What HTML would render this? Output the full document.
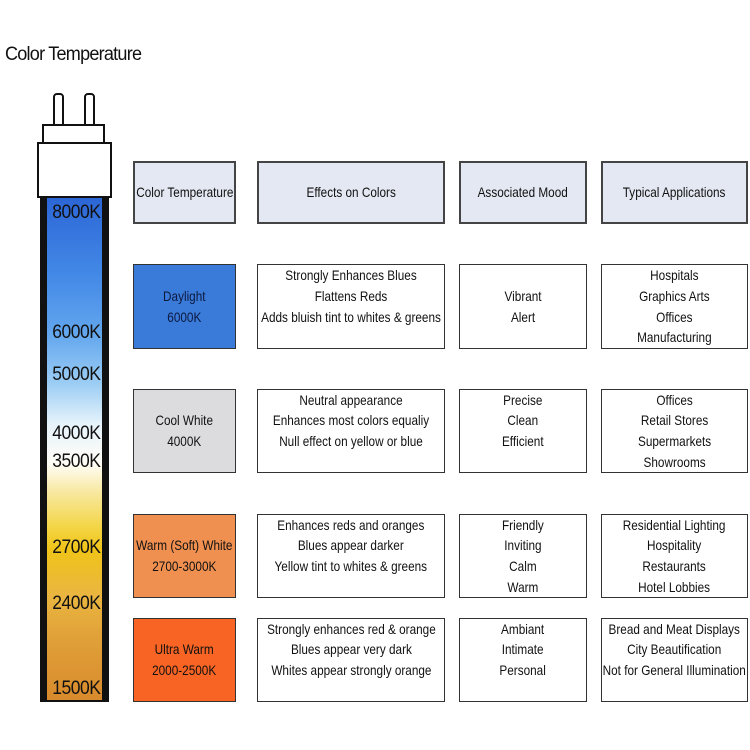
<!DOCTYPE html>
<html><head><meta charset="utf-8"><style>
body{margin:0;width:750px;height:750px;background:#fff;position:relative;overflow:hidden;font-family:"Liberation Sans",sans-serif;color:#111}
.a{position:absolute}
.box{position:absolute;border:1px solid #333;box-sizing:border-box;display:flex;flex-direction:column;justify-content:center;align-items:center;text-align:center;font-size:14px;line-height:20.7px;background:#fff}
.box>div{white-space:nowrap;transform:scaleX(.84)}
.hdr{background:#e4e8f2;border:2px solid #444}
.k{position:absolute;right:650px;font-size:19px;line-height:20px;color:#111;transform:translateY(-50%) scaleX(.92);transform-origin:right center;letter-spacing:-0.5px}
</style></head><body>
<div class="a" style="left:5px;top:44px;font-size:19px;letter-spacing:-0.8px;transform:scaleX(.95);transform-origin:left">Color Temperature</div>
<div>
<div class="a" style="left:53px;top:93px;width:7px;height:34px;border:2px solid #111;border-radius:4px 4px 0 0;background:#fff"></div>
<div class="a" style="left:84px;top:93px;width:7px;height:34px;border:2px solid #111;border-radius:4px 4px 0 0;background:#fff"></div>
<div class="a" style="left:42px;top:124px;width:63px;height:20px;border:2px solid #111;box-sizing:border-box;background:#fff"></div>
<div class="a" style="left:37px;top:142px;width:75px;height:56px;border:2px solid #111;box-sizing:border-box;background:#fff"></div>
<div class="a" style="left:40px;top:196px;width:69px;height:506px;background:#111"></div>
<div class="a" style="left:47px;top:198px;width:55px;height:502px;background:linear-gradient(to bottom,#2c66d6 0%,#4288e6 15%,#62a6ee 27%,#9ccdf4 37%,#e6f3fb 45%,#fffdf6 53%,#f8eaa8 58%,#f3d440 66%,#f0c418 70%,#eab640 79%,#e0a038 88%,#d88a2c 100%)"></div>
</div>
<div class="k" style="top:213px">8000K</div>
<div class="k" style="top:333px">6000K</div>
<div class="k" style="top:375px">5000K</div>
<div class="k" style="top:434px">4000K</div>
<div class="k" style="top:462px">3500K</div>
<div class="k" style="top:548px">2700K</div>
<div class="k" style="top:604px">2400K</div>
<div class="k" style="top:689px">1500K</div>

<div class="box hdr" style="left:133px;top:161px;width:103px;height:63px"><div>Color Temperature</div></div>
<div class="box hdr" style="left:257px;top:161px;width:188px;height:63px"><div>Effects on Colors</div></div>
<div class="box hdr" style="left:459px;top:161px;width:128px;height:63px"><div>Associated Mood</div></div>
<div class="box hdr" style="left:601px;top:161px;width:147px;height:63px"><div>Typical Applications</div></div>

<div class="box" style="left:133px;top:264px;width:103px;height:85px;background:#3a7ad8;color:#0d1a40"><div>Daylight<br>6000K</div></div>
<div class="box" style="left:257px;top:264px;width:188px;height:85px"><div>Strongly Enhances Blues<br>Flattens Reds<br>Adds bluish tint to whites &amp; greens<br>&nbsp;</div></div>
<div class="box" style="left:459px;top:264px;width:128px;height:85px"><div>Vibrant<br>Alert</div></div>
<div class="box" style="left:601px;top:264px;width:147px;height:85px"><div>Hospitals<br>Graphics Arts<br>Offices<br>Manufacturing</div></div>

<div class="box" style="left:133px;top:389px;width:103px;height:84px;background:#dcdcde"><div>Cool White<br>4000K</div></div>
<div class="box" style="left:257px;top:389px;width:188px;height:84px"><div>Neutral appearance<br>Enhances most colors equaliy<br>Null effect on yellow or blue<br>&nbsp;</div></div>
<div class="box" style="left:459px;top:389px;width:128px;height:84px"><div>Precise<br>Clean<br>Efficient<br>&nbsp;</div></div>
<div class="box" style="left:601px;top:389px;width:147px;height:84px"><div>Offices<br>Retail Stores<br>Supermarkets<br>Showrooms</div></div>

<div class="box" style="left:133px;top:514px;width:103px;height:84px;background:#f09050"><div>Warm (Soft) White<br>2700-3000K</div></div>
<div class="box" style="left:257px;top:514px;width:188px;height:84px"><div>Enhances reds and oranges<br>Blues appear darker<br>Yellow tint to whites &amp; greens<br>&nbsp;</div></div>
<div class="box" style="left:459px;top:514px;width:128px;height:84px"><div>Friendly<br>Inviting<br>Calm<br>Warm</div></div>
<div class="box" style="left:601px;top:514px;width:147px;height:84px"><div>Residential Lighting<br>Hospitality<br>Restaurants<br>Hotel Lobbies</div></div>

<div class="box" style="left:133px;top:618px;width:103px;height:84px;background:#f86424"><div>Ultra Warm<br>2000-2500K</div></div>
<div class="box" style="left:257px;top:618px;width:188px;height:84px"><div>Strongly enhances red &amp; orange<br>Blues appear very dark<br>Whites appear strongly orange<br>&nbsp;</div></div>
<div class="box" style="left:459px;top:618px;width:128px;height:84px"><div>Ambiant<br>Intimate<br>Personal<br>&nbsp;</div></div>
<div class="box" style="left:601px;top:618px;width:147px;height:84px"><div>Bread and Meat Displays<br>City Beautification<br>Not for General Illumination<br>&nbsp;</div></div>
</body></html>
